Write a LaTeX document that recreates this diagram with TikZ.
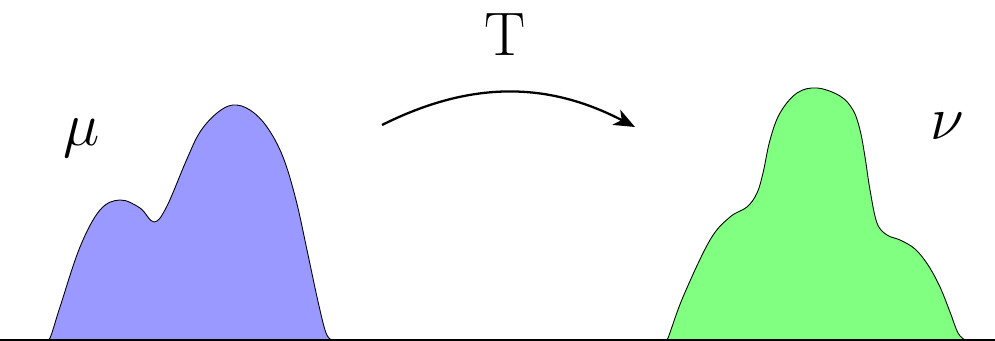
\RequirePackage{fix-cm}
\documentclass[tikz,border=0pt]{standalone}
\usepackage{tikz}
\usetikzlibrary{arrows.meta}
\tikzstyle{density} = [draw=black, line width=0.5pt]
\tikzstyle{source} = [density, fill=blue!40]
\tikzstyle{target} = [density, fill=green!50]
\tikzstyle{biglabel} = [inner sep=0pt, font=\fontsize{35}{40}\selectfont]
\tikzstyle{arrow} = [line width=1.3pt, -{Stealth[length=0.42cm, width=0.34cm, inset=0.12cm]}]

\begin{document}
\begin{tikzpicture}
  \useasboundingbox (0,-0.02) rectangle (19.9,6.8);
  % source measure
  \draw[source] plot[smooth, tension=0.6] coordinates {
    (0.9,0) (1.0,0.04) (1.2,0.66) (1.6,1.86) (2.0,2.6) (2.4,2.8)
    (2.8,2.64) (3.08,2.36) (3.33,2.66) (3.73,3.6) (4.0,4.16) (4.34,4.54)
    (4.66,4.7) (5.0,4.6) (5.34,4.26) (5.66,3.66) (5.92,2.8) (6.14,1.8)
    (6.34,0.86) (6.5,0.2) (6.6,0.02) (6.7,0)} -- cycle;
  % target measure
  \draw[target] plot[smooth, tension=0.6] coordinates {
    (13.3,0) (13.36,0.04) (13.66,0.86) (14.2,2.0) (14.6,2.46) (14.94,2.66)
    (15.14,2.94) (15.26,3.34) (15.4,4.0) (15.6,4.54) (15.94,4.94) (16.34,5.04)
    (16.8,4.88) (17.06,4.6) (17.2,4.2) (17.3,3.66) (17.4,3.0) (17.54,2.34)
    (17.74,2.1) (18.0,2.0) (18.3,1.82) (18.56,1.5) (18.8,1.06) (19.0,0.56)
    (19.16,0.14) (19.3,0)} -- cycle;
  % ground line
  \coordinate (gl) at (0,0);
  \coordinate (gr) at (19.9,0);
  \draw[line width=0.8pt] (gl) -- (gr);

  \node[biglabel](mu) at (1.64,4.04){$\mu$};
  \node[biglabel](nu) at (18.94,4.28){$\nu$};
  \node[biglabel](map) at (10.1,6.1){T};

  \coordinate (from) at (7.64,4.3);
  \coordinate (to) at (12.7,4.26);
  \draw[arrow](from) to[bend left=27] (to);
\end{tikzpicture}
\end{document}
